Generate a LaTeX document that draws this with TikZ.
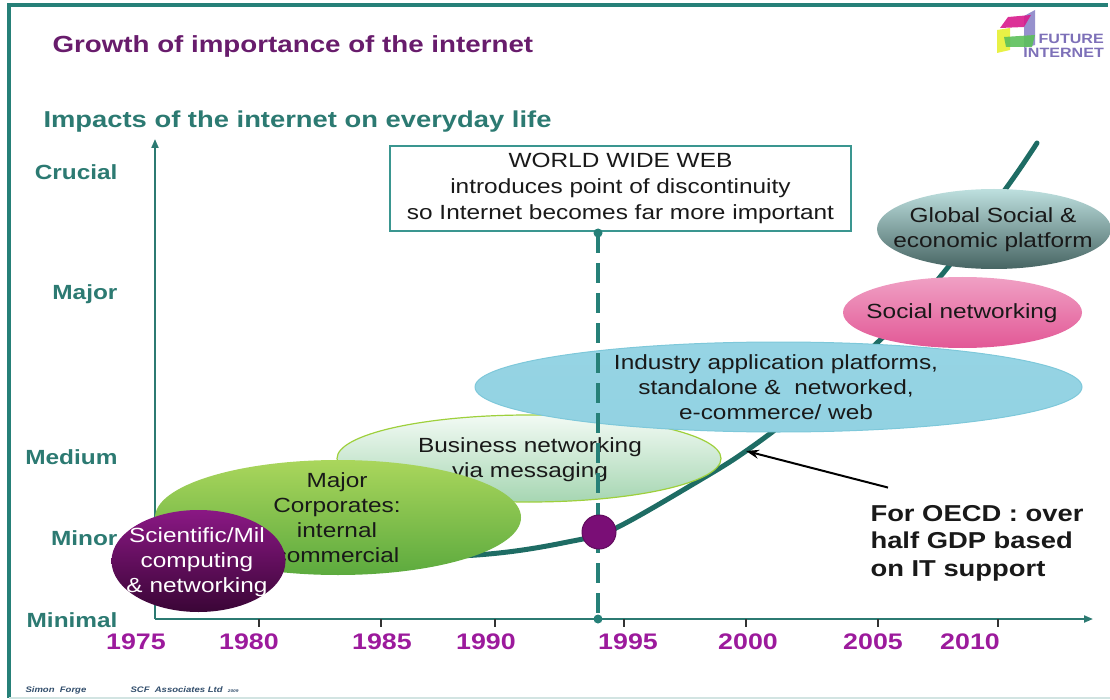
\documentclass[tikz,border=0pt]{standalone}
\usepackage{fontspec}
\setmainfont{Liberation Sans}[FakeStretch=1.19]
\usetikzlibrary{arrows.meta}

\definecolor{frameteal}{RGB}{38,128,120}
\definecolor{axisteal}{RGB}{44,122,114}
\definecolor{curveteal}{RGB}{30,108,100}
\definecolor{titlepurple}{RGB}{104,28,108}
\definecolor{yearpurple}{RGB}{156,26,156}
\definecolor{dotpurple}{RGB}{122,14,118}
\definecolor{logolav}{RGB}{125,112,184}

\newcommand{\ellfont}{\fontsize{20.5}{25}\selectfont}

\begin{document}
\begin{tikzpicture}[x=1pt,y=-1pt,
  axisline/.style={draw=axisteal, line width=2pt},
  lvl/.style={anchor=east, text=axisteal, font=\fontsize{20.5}{24}\selectfont\bfseries},
  yr/.style={text=yearpurple, font=\fontsize{22.5}{26}\selectfont\bfseries},
  tick/.style={draw=black!80, line width=1.2pt},
  logoword/.style={anchor=east, inner sep=0pt, text=logolav, font=\fontsize{13.5}{13}\selectfont\bfseries},
  elltext/.style={align=center, font=\ellfont, text=black!90}]
\useasboundingbox (0,0) rectangle (1110,700);

%Shape: Frame
\draw [color=frameteal, line width=4pt] (9,698) -- (9,5) -- (1108,5) ;
\draw [color={rgb, 255:red, 210; green, 228; blue, 226 }, line width=2pt] (9,698) -- (1110,698) ;

% Text Node
\draw (49,46) node (title) [anchor=west, text=titlepurple, font=\fontsize{23.3}{27}\selectfont\bfseries] {Growth of importance of the internet};
% Text Node
\draw (40,122) node (impacts) [anchor=west, text=axisteal, font=\fontsize{23}{27}\selectfont\bfseries] {Impacts of the internet on everyday life};

%Shape: Logo
\fill [color={rgb, 255:red, 139; green, 133; blue, 200 }, opacity=0.9] (1024,16) -- (1035,10) -- (1035,45) -- (1024,48) -- cycle ;
\fill [color={rgb, 255:red, 230; green, 240; blue, 50 }, opacity=0.9] (997,30) -- (1010,28) -- (1010,50) -- (997,53) -- cycle ;
\fill [color={rgb, 255:red, 216; green, 27; blue, 140 }, opacity=0.9] (1008,17) -- (1031,15) -- (1024,27) -- (1000,28) -- cycle ;
\fill [color={rgb, 255:red, 92; green, 192; blue, 90 }, opacity=0.9] (1004,37) -- (1035,35) -- (1032,47) -- (1006,47) -- cycle ;
% Text Node
\draw (1104,39) node (logofuture) [logoword] {FUTURE};
% Text Node
\draw (1104,52.5) node (logointernet) [logoword] {INTERNET};

%Straight Lines: axes
\draw [axisline, -{Triangle[length=9pt,width=7pt]}] (155,619) -- (155,139) ;
\draw [axisline, -{Triangle[length=9pt,width=7pt]}] (155,619) -- (1093,619) ;

%Straight Lines: ticks
\draw [tick] (259,619) -- (259,627) ;
\draw [tick] (381,619) -- (381,627) ;
\draw [tick] (495,619) -- (495,627) ;
\draw [tick] (624,619) -- (624,627) ;
\draw [tick] (746,619) -- (746,627) ;
\draw [tick] (878,619) -- (878,627) ;
\draw [tick] (998,619) -- (998,627) ;

% Text Node
\draw (121,172) node (crucial) [lvl] {Crucial};
% Text Node
\draw (121,294) node (major) [lvl] {Major};
% Text Node
\draw (121,457) node (medium) [lvl] {Medium};
% Text Node
\draw (121,538) node (minor) [lvl] {Minor};
% Text Node
\draw (121,620) node (minimal) [lvl] {Minimal};

% Text Node
\draw (136,642) node (y1975) [yr] {1975};
% Text Node
\draw (249,642) node (y1980) [yr] {1980};
% Text Node
\draw (382,642) node (y1985) [yr] {1985};
% Text Node
\draw (486,642) node (y1990) [yr] {1990};
% Text Node
\draw (628,642) node (y1995) [yr] {1995};
% Text Node
\draw (748,642) node (y2000) [yr] {2000};
% Text Node
\draw (873,642) node (y2005) [yr] {2005};
% Text Node
\draw (970,642) node (y2010) [yr] {2010};

%Curve: growth
\draw [color=curveteal, line width=5pt, line cap=round] plot [smooth, tension=0.6] coordinates {(230,556) (460,556) (583,539) (620,526) (700,480) (746,451) (800,410) (878,342) (940,277) (1007,187) (1037,143)} ;

%Shape: Ellipse [business]
\shade [top color={rgb, 255:red, 242; green, 250; blue, 244 }, bottom color={rgb, 255:red, 166; green, 214; blue, 178 }] (529,458.5) ellipse [x radius=192, y radius=43.5] ;
\draw [color={rgb, 255:red, 158; green, 208; blue, 60 }, line width=1.2pt] (529,458.5) ellipse [x radius=192, y radius=43.5] ;
% Text Node
\draw (530,460) node (business) [elltext] {Business networking\\via messaging};

%Shape: Ellipse [industry]
\shade [top color={rgb, 255:red, 150; green, 212; blue, 228 }, middle color={rgb, 255:red, 234; green, 247; blue, 250 }, bottom color={rgb, 255:red, 146; green, 210; blue, 226 }] (778.5,387) ellipse [x radius=303.5, y radius=45] ;
\draw [color={rgb, 255:red, 126; green, 200; blue, 218 }, line width=1pt] (778.5,387) ellipse [x radius=303.5, y radius=45] ;
% Text Node
\draw (776,387) node (industry) [elltext] {Industry application platforms,\\standalone \&\ \ networked,\\e-commerce/ web};

%Shape: Ellipse [corporates]
\shade [top color={rgb, 255:red, 170; green, 214; blue, 92 }, bottom color={rgb, 255:red, 92; green, 170; blue, 62 }] (338,517.5) ellipse [x radius=183, y radius=57.5] ;
% Text Node
\draw (337,518) node (corporates) [elltext] {Major\\Corporates:\\internal\\commercial};

%Shape: Ellipse [scientific]
\shade [top color={rgb, 255:red, 138; green, 24; blue, 132 }, bottom color={rgb, 255:red, 58; green, 5; blue, 54 }] (198.5,561) ellipse [x radius=87, y radius=51] ;
% Text Node
\draw (197,562) node (scientific) [elltext, text=white] {Scientific/Mil\\computing\\\& networking};

%Shape: Ellipse [social]
\shade [top color={rgb, 255:red, 240; green, 160; blue, 196 }, middle color={rgb, 255:red, 252; green, 232; blue, 240 }, bottom color={rgb, 255:red, 226; green, 88; blue, 150 }] (962.5,312.5) ellipse [x radius=119.5, y radius=35.5] ;
% Text Node
\draw (962,313) node (social) [elltext] {Social networking};

%Shape: Ellipse [global]
\shade [top color={rgb, 255:red, 190; green, 224; blue, 223 }, bottom color={rgb, 255:red, 70; green, 100; blue, 98 }] (994,229) ellipse [x radius=117, y radius=40] ;
% Text Node
\draw (993,230) node (global) [elltext] {Global Social \&\\economic platform};

% Text Node [box]
\draw (620.5,188.5) node (wwwbox) [draw={rgb, 255:red, 58; green, 150; blue, 144 }, line width=1.2pt, fill=white, minimum width=461, minimum height=85, inner sep=0pt, align=center, font=\fontsize{20.5}{26}\selectfont, text=black!90] {WORLD WIDE WEB\\introduces point of discontinuity\\so Internet becomes far more important};

%Straight Lines: dashed 1994
\coordinate (dashtop) at (598,233) ;
\coordinate (dashbot) at (598,619) ;
\draw [color=frameteal, line width=3.5pt, dash pattern=on 20pt off 10pt] (dashtop) -- (dashbot) ;
\fill [color=frameteal] (dashtop) circle [radius=4.5] ;
\fill [color=frameteal] (dashbot) circle [radius=4.5] ;

%Shape: Circle
\draw [color=dotpurple!80!black, fill=dotpurple, line width=1pt] (599,532) circle [radius=17] ;

% Text Node
\draw (867,543) node (oecd) [anchor=west, align=left, font=\fontsize{23}{27.5}\selectfont\bfseries, text=black!90] {For OECD : over\\half GDP based\\on IT support};
\coordinate (webtip) at (746,451) ;
\draw [line width=2pt, -{Stealth[length=13pt,width=9pt]}] ([shift={(21,-14)}]oecd.north west) -- (webtip) ;

% Text Node
\draw (22,690) node (author) [anchor=west, font=\fontsize{8}{9}\selectfont\bfseries\itshape, text={rgb, 255:red, 50; green, 78; blue, 108 }] {Simon\ \ Forge};
% Text Node
\draw (127,690) node (firm) [anchor=west, font=\fontsize{8}{9}\selectfont\bfseries\itshape, text={rgb, 255:red, 50; green, 78; blue, 108 }] {SCF\ \ Associates Ltd\ \ {\fontsize{4}{5}\selectfont 2009}};
\end{tikzpicture}
\end{document}
